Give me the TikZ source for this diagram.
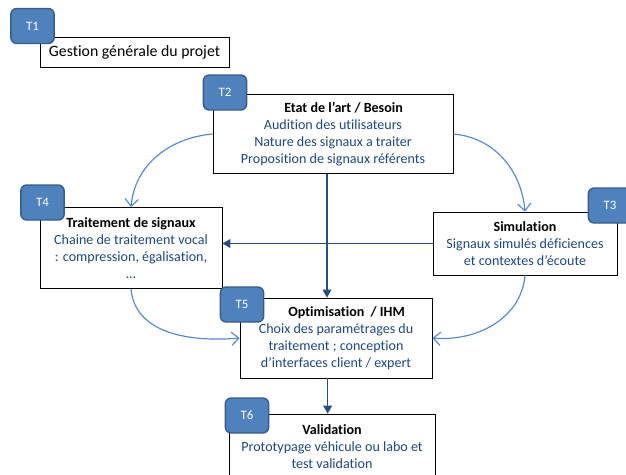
\documentclass[tikz,border=0pt]{standalone}
\usepackage{fontspec}
\setmainfont{Carlito}[Ligatures=NoCommon]
\usetikzlibrary{arrows.meta}
\definecolor{tabblue}{HTML}{4F81BD}
\definecolor{tabedge}{HTML}{385D8A}
\definecolor{textblue}{HTML}{1F497D}
\definecolor{darkarrow}{HTML}{2A4D7F}
\definecolor{lightarrow}{HTML}{5A8AC6}
\tikzstyle{task} = [draw, fill=white, line width=0.6pt, align=center, inner sep=2pt, font=\fontsize{12}{14.5}\selectfont, text=textblue]
\tikzstyle{tab} = [draw=tabedge, fill=tabblue, line width=1.2pt, rounded corners=5pt, text=white, minimum width=1.3cm, minimum height=1.05cm, font=\fontsize{11}{13}\selectfont]
\tikzstyle{arrow} = [-{Triangle[length=2.4mm,width=2.6mm]}, darkarrow, line width=1.2pt]
\tikzstyle{curvearrow} = [-{Straight Barb[length=2.2mm,width=4mm]}, lightarrow, line width=1pt]
\newcommand{\tasktitle}[1]{{\color{black}\bfseries #1}}

\begin{document}
\begin{tikzpicture}[x=0.03cm, y=-0.03cm]
        \useasboundingbox (0,0) rectangle (626,474);
        % boxes
        \node[task, text=black, font=\fontsize{13.5}{16}\selectfont, minimum width=5.67cm, minimum height=0.9cm] at (134.5,52) (gestion) {Gestion générale du projet};
        \node[task, minimum width=7.2cm, minimum height=2.37cm] at (333,134) (etat) {\hspace*{18pt}\tasktitle{Etat de l’art / Besoin}\\Audition des utilisateurs\\Nature des signaux a traiter\\Proposition de signaux référents};
        \node[task, minimum width=5.46cm, minimum height=2.43cm] at (131,248) (traitement) {\tasktitle{Traitement de signaux}\\Chaine de traitement vocal\\: compression, égalisation,\\…};
        \node[task, minimum width=5.52cm, minimum height=1.89cm] at (525,243.5) (simulation) {\tasktitle{Simulation}\\Signaux simulés déficiences\\et contextes d’écoute};
        \node[task, minimum width=5.76cm, minimum height=2.4cm] at (336,338) (optim) {\hspace*{18pt}\tasktitle{Optimisation~ / IHM}\\Choix des paramétrages du\\traitement ; conception\\d’interfaces client / expert};
        \node[task, minimum width=6.18cm, minimum height=1.98cm] at (332,447) (valid) {\tasktitle{Validation}\\Prototypage véhicule ou labo et\\test validation};

        % links
        \draw[arrow] ([xshift=-0.18cm]etat.south) -- ([xshift=-0.18cm]etat.south |- optim.north);
        \draw[arrow] (simulation.west) -- (simulation.west -| traitement.east);
        \draw[arrow] ([xshift=-0.25cm]optim.south) -- ([xshift=-0.25cm]optim.south |- valid.north);
        \draw[curvearrow] (etat.west) to [out=185, in=85] (traitement.north);
        \draw[curvearrow] (etat.east) to [out=-5, in=95] (simulation.north);
        \draw[curvearrow] (traitement.south) to [out=-85, in=185] (optim.west);
        \draw[curvearrow] (simulation.south) to [out=-95, in=-5] (optim.east);

        % tabs
        \node[tab] at (32.5,26) (tone) {T1};
        \node[tab] at (225,92.5) (ttwo) {T2};
        \node[tab] at (610,205.5) (tthree) {T3};
        \node[tab] at (42.5,202.5) (tfour) {T4};
        \node[tab] at (242,304.5) (tfive) {T5};
        \node[tab] at (247,415.5) (tsix) {T6};
\end{tikzpicture}
\end{document}
